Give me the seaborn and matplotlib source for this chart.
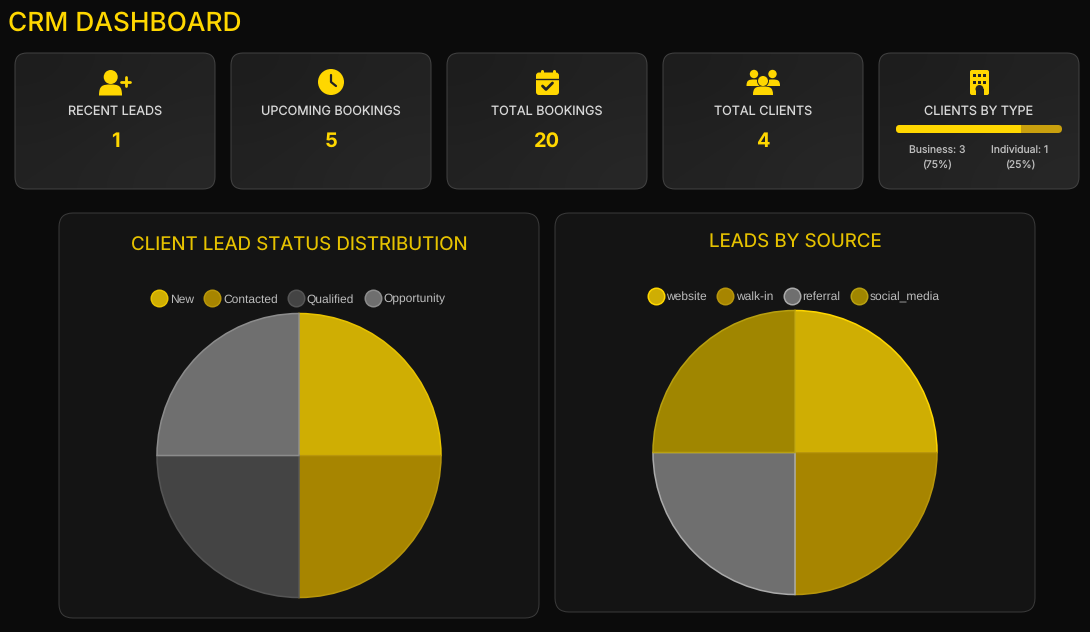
import numpy as np
import matplotlib
matplotlib.use("Agg")
import matplotlib.pyplot as plt
from matplotlib.lines import Line2D
from matplotlib.patches import Circle, FancyBboxPatch, PathPatch, Rectangle
from matplotlib.path import Path
import seaborn as sns

W, H = 1090, 632

# data
card_labels = ["RECENT LEADS", "UPCOMING BOOKINGS", "TOTAL BOOKINGS", "TOTAL CLIENTS"]
card_values = [1, 5, 20, 4]
client_types = ["Business", "Individual"]
client_counts = [3, 1]
status_labels = ["New", "Contacted", "Qualified", "Opportunity"]
status_values = [1, 1, 1, 1]
source_labels = ["website", "walk-in", "referral", "social_media"]
source_values = [1, 1, 1, 1]

GOLD = "#FFD700"
status_fill = sns.color_palette(["#CFAE03", "#A78500", "#444444", "#6F6F6F"])
status_edge = sns.color_palette(["#E8C300", "#B8960B", "#555555", "#8C8C8C"])
source_fill = sns.color_palette(["#CFAE03", "#A78500", "#6F6F6F", "#A08600"])
source_edge = sns.color_palette(["#FFD700", "#B8960B", "#AAAAAA", "#B8A010"])

sns.set_theme(style="dark", rc={"figure.facecolor": "#0B0B0B", "axes.facecolor": "none"})
plt.rcParams["font.family"] = ["Inter", "DejaVu Sans"]
plt.rcParams["text.hinting"] = "no_hinting"
plt.rcParams["text.hinting_factor"] = 1

fig = plt.figure(figsize=(W / 100, H / 100), dpi=100)
bg = fig.add_axes([0, 0, 1, 1])
bg.set_xlim(0, W)
bg.set_ylim(H, 0)
bg.axis("off")


def px(size):
    return size * 0.72


def rounded(x0, y0, x1, y1, r, **kw):
    p = FancyBboxPatch((x0 + r, y0 + r), x1 - x0 - 2 * r, y1 - y0 - 2 * r,
                       boxstyle=f"round,pad={r},rounding_size={r}", **kw)
    bg.add_patch(p)
    return p


def card(x0, y0, x1, y1):
    # slight diagonal gradient like the css one
    grad = np.array([[0.0, 0.5], [0.5, 1.0]])
    cmap = sns.blend_palette(["#1D1D1D", "#272727"], as_cmap=True)
    im = bg.imshow(grad, extent=(x0, x1, y1, y0), cmap=cmap, interpolation="bicubic",
                   aspect="auto", zorder=1)
    p = rounded(x0, y0, x1, y1, 12, fc="none", ec="#444444", lw=0.7, zorder=2)
    im.set_clip_path(p)
    bg.set_xlim(0, W)
    bg.set_ylim(H, 0)


def bust(cx, top, bot, hw, color=GOLD, z=3):
    verts = [(cx - hw, bot), (cx - hw, top + (bot - top) * 0.1), (cx - hw * 0.7, top), (cx, top),
             (cx + hw * 0.7, top), (cx + hw, top + (bot - top) * 0.1), (cx + hw, bot), (cx - hw, bot)]
    codes = [Path.MOVETO, Path.CURVE4, Path.CURVE4, Path.CURVE4,
             Path.CURVE4, Path.CURVE4, Path.CURVE4, Path.CLOSEPOLY]
    bg.add_patch(PathPatch(Path(verts, codes), fc=color, ec="none", zorder=z))


def icon_person_plus():
    bg.add_patch(Circle((110.7, 77), 7, fc=GOLD, ec="none", zorder=3))
    bust(110.5, 84.5, 95.5, 11.5)
    bg.plot([125.5, 125.5], [77, 86], color=GOLD, lw=2, solid_capstyle="round", zorder=3)
    bg.plot([121, 130], [81.5, 81.5], color=GOLD, lw=2, solid_capstyle="round", zorder=3)


def icon_clock():
    bg.add_patch(Circle((331, 82), 13, fc=GOLD, ec="none", zorder=3))
    bg.plot([331, 331, 336], [75, 82, 86], color="#222222", lw=1.6, solid_capstyle="round", zorder=4)


def icon_calendar():
    rounded(536, 72.5, 559, 95, 3, fc=GOLD, ec="none", zorder=3)
    for x in (541.5, 553.5):
        bg.plot([x, x], [70.5, 75], color=GOLD, lw=2.2, solid_capstyle="round", zorder=3)
    bg.plot([536, 559], [78.5, 78.5], color="#222222", lw=1, zorder=4)
    bg.plot([542.5, 546, 552.5], [86, 89.5, 83], color="#222222", lw=2, zorder=4)


def icon_users():
    for cx in (754, 772.5):
        bg.add_patch(Circle((cx, 74), 4.2, fc=GOLD, ec="none", zorder=3))
        bust(cx, 79.5, 86, 7.5)
    bg.add_patch(Circle((763, 81), 6, fc="#232323", ec="none", zorder=4))
    bg.add_patch(Circle((763, 81), 5, fc=GOLD, ec="none", zorder=5))
    bg.add_patch(Rectangle((751, 86), 24, 10, fc="#232323", ec="none", zorder=4))
    bust(763, 86.5, 95, 10, z=5)


def icon_building():
    rounded(970, 70, 989, 95, 2, fc=GOLD, ec="none", zorder=3)
    for y in (75.7, 82.3):
        for x in (974.5, 979.5, 984.5):
            bg.add_patch(Rectangle((x - 1.3, y - 1.3), 2.6, 2.6, fc="#232323", ec="none", zorder=4))
    bg.add_patch(Circle((979.5, 89), 4, fc="#232323", ec="none", zorder=4))
    bg.add_patch(Rectangle((975.5, 89), 8, 6, fc="#232323", ec="none", zorder=4))


# heading
bg.text(8, 24, "CRM DASHBOARD", color=GOLD, fontsize=px(26.3), fontweight=500, va="center", ha="left")

# stat cards
card_x = [15, 231, 447, 663, 879]
for x0 in card_x:
    card(x0, 53, x0 + 200, 189)
for x0, label, val in zip(card_x, card_labels, card_values):
    cx = x0 + 100
    bg.text(cx, 111.5, label, color="#D8D8D8", fontsize=px(12.6), ha="center", va="center", zorder=5)
    bg.text(cx, 142, str(val), color=GOLD, fontsize=px(20), fontweight=700, ha="center", va="center", zorder=5)
icon_person_plus()
icon_clock()
icon_calendar()
icon_users()
icon_building()

# clients by type card
bg.text(979, 111.5, "CLIENTS BY TYPE", color="#D8D8D8", fontsize=px(12.6), ha="center", va="center", zorder=5)
total = sum(client_counts)
bar_x0, bar_x1 = 896, 1062
bar_bg = rounded(bar_x0, 125, bar_x1, 133, 4, fc="#C9A00E", ec="none", zorder=3)
split = bar_x0 + (bar_x1 - bar_x0) * client_counts[0] / total
bar_fg = Rectangle((bar_x0, 125), split - bar_x0, 8, fc=GOLD, ec="none", zorder=4)
bg.add_patch(bar_fg)
bar_fg.set_clip_path(bar_bg)
for cx, name, n in zip([937, 1020], client_types, client_counts):
    bg.text(cx, 150, f"{name}: {n}", color="#BDBDBD", fontsize=px(10.4), ha="center", va="center", zorder=5)
    bg.text(cx, 165, f"({n * 100 // total}%)", color="#BDBDBD", fontsize=px(10.4), ha="center", va="center", zorder=5)

# chart panels
rounded(59, 213, 539, 618, 14, fc="#141414", ec="#3C3C3C", lw=0.7, zorder=1)
rounded(555, 213, 1035, 612, 14, fc="#141414", ec="#3C3C3C", lw=0.7, zorder=1)
bg.text(299, 246, "CLIENT LEAD STATUS DISTRIBUTION", color="#E6C200", fontsize=px(18.7), ha="center", va="center", zorder=5)
bg.text(795, 243, "LEADS BY SOURCE", color="#E6C200", fontsize=px(18.7), ha="center", va="center", zorder=5)


def draw_pie(cx, cy, r, values, labels, fills, edges, leg_cx, leg_cy):
    ax = fig.add_axes([(cx - r) / W, 1 - (cy + r) / H, 2 * r / W, 2 * r / H])
    wedges, _ = ax.pie(values, colors=fills, startangle=90, counterclock=False,
                       wedgeprops={"linewidth": 1.1})
    for w, e in zip(wedges, edges):
        w.set_edgecolor(e)
        w.set_clip_on(False)
    ax.set_xlim(-1, 1)
    ax.set_ylim(-1, 1)
    handles = [Line2D([], [], ls="none", marker="o", ms=px(16.5), mfc=f, mec=e, mew=1.1)
               for f, e in zip(fills, edges)]
    ax.legend(handles, labels, ncol=4, frameon=False, loc="center",
              bbox_to_anchor=(leg_cx / W, 1 - leg_cy / H), bbox_transform=fig.transFigure,
              prop={"family": "Liberation Sans", "size": px(11.9)}, labelcolor="#BDBDBD",
              handlelength=1.4, handletextpad=0.2, columnspacing=0.85, borderpad=0, borderaxespad=0)


draw_pie(299, 455.5, 142, status_values, status_labels, status_fill, status_edge, 298, 299.5)
draw_pie(795, 452.5, 142, source_values, source_labels, source_fill, source_edge, 793.5, 297)

fig.savefig("out.png", dpi=100, facecolor=fig.get_facecolor())
